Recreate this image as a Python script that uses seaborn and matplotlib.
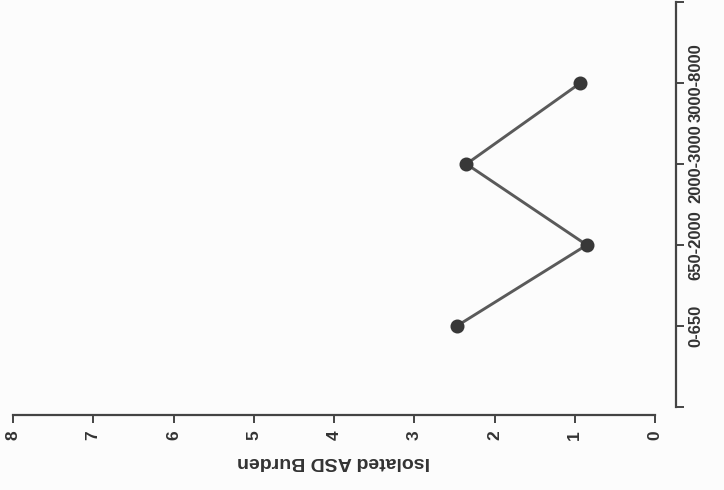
import matplotlib
matplotlib.use("Agg")
import matplotlib.pyplot as plt
import seaborn as sns
import pandas as pd

categories = ["0-650", "650-2000", "2000-3000", "3000-8000"]
burden = [2.47, 0.85, 2.35, 0.93]
value_ticks = [0, 1, 2, 3, 4, 5, 6, 7, 8]
value_label = "Isolated ASD Burden"
category_label = "Window Size (kb)"

sns.set_style("white")
plt.rcParams["font.family"] = ["Liberation Sans", "DejaVu Sans"]

df = pd.DataFrame({"cat": categories, "burden": burden})

fig = plt.figure(figsize=(7.24, 4.9), dpi=100)
fig.patch.set_facecolor("#fcfcfc")
ax = fig.add_axes([13 / 724, 1 - 407 / 490, (655 - 13) / 724, (407 - 2) / 490])
ax.set_facecolor("#fcfcfc")

sns.pointplot(data=df, x="burden", y="cat", order=categories, color="#5a5a5a",
              markersize=8.5, linewidth=2.1, ax=ax, errorbar=None)
for ln in ax.lines:
    ln.set_markerfacecolor("#383838")
    ln.set_markeredgecolor("#383838")

ax.set_xlim(8, 0)
ax.set_ylim(-1, 4)
ax.set_xticks(value_ticks)
ax.set_xticklabels([str(v) for v in value_ticks])
ax.set_yticks([-1, 0, 1, 2, 3, 4])
ax.set_yticklabels([""] + categories + [""])
ax.yaxis.tick_right()

for s in ["top", "left"]:
    ax.spines[s].set_visible(False)
ax.spines["bottom"].set_position(("outward", 6))
ax.spines["right"].set_position(("outward", 15))
for s in ["bottom", "right"]:
    ax.spines[s].set_visible(True)
    ax.spines[s].set_color("#444444")
    ax.spines[s].set_linewidth(1.6)

ax.tick_params(axis="both", which="both", direction="out", length=6, width=1.4,
               color="#444444", labelcolor="#333333", labelrotation=90)
ax.tick_params(axis="x", bottom=True, top=False, labelsize=12.5, pad=5)
ax.tick_params(axis="y", right=True, left=False, labelright=True, labelleft=False,
               labelsize=12, pad=3)
for t in ax.yaxis.get_major_ticks():
    t.label2.set_fontweight("bold")
    t.label2.set_va("center")
for t in ax.xaxis.get_major_ticks():
    t.label1.set_fontweight("bold")

ax.set_xlabel(value_label, rotation=180, fontsize=14, fontweight="bold",
              color="#333333", labelpad=9)
ax.set_ylabel("")
fig.text(733 / 724, 1 - 190 / 490, category_label, rotation=90, ha="center",
         va="center", fontsize=14, fontweight="bold", color="#333333")

fig.savefig("out.png", dpi=100, facecolor=fig.get_facecolor())
